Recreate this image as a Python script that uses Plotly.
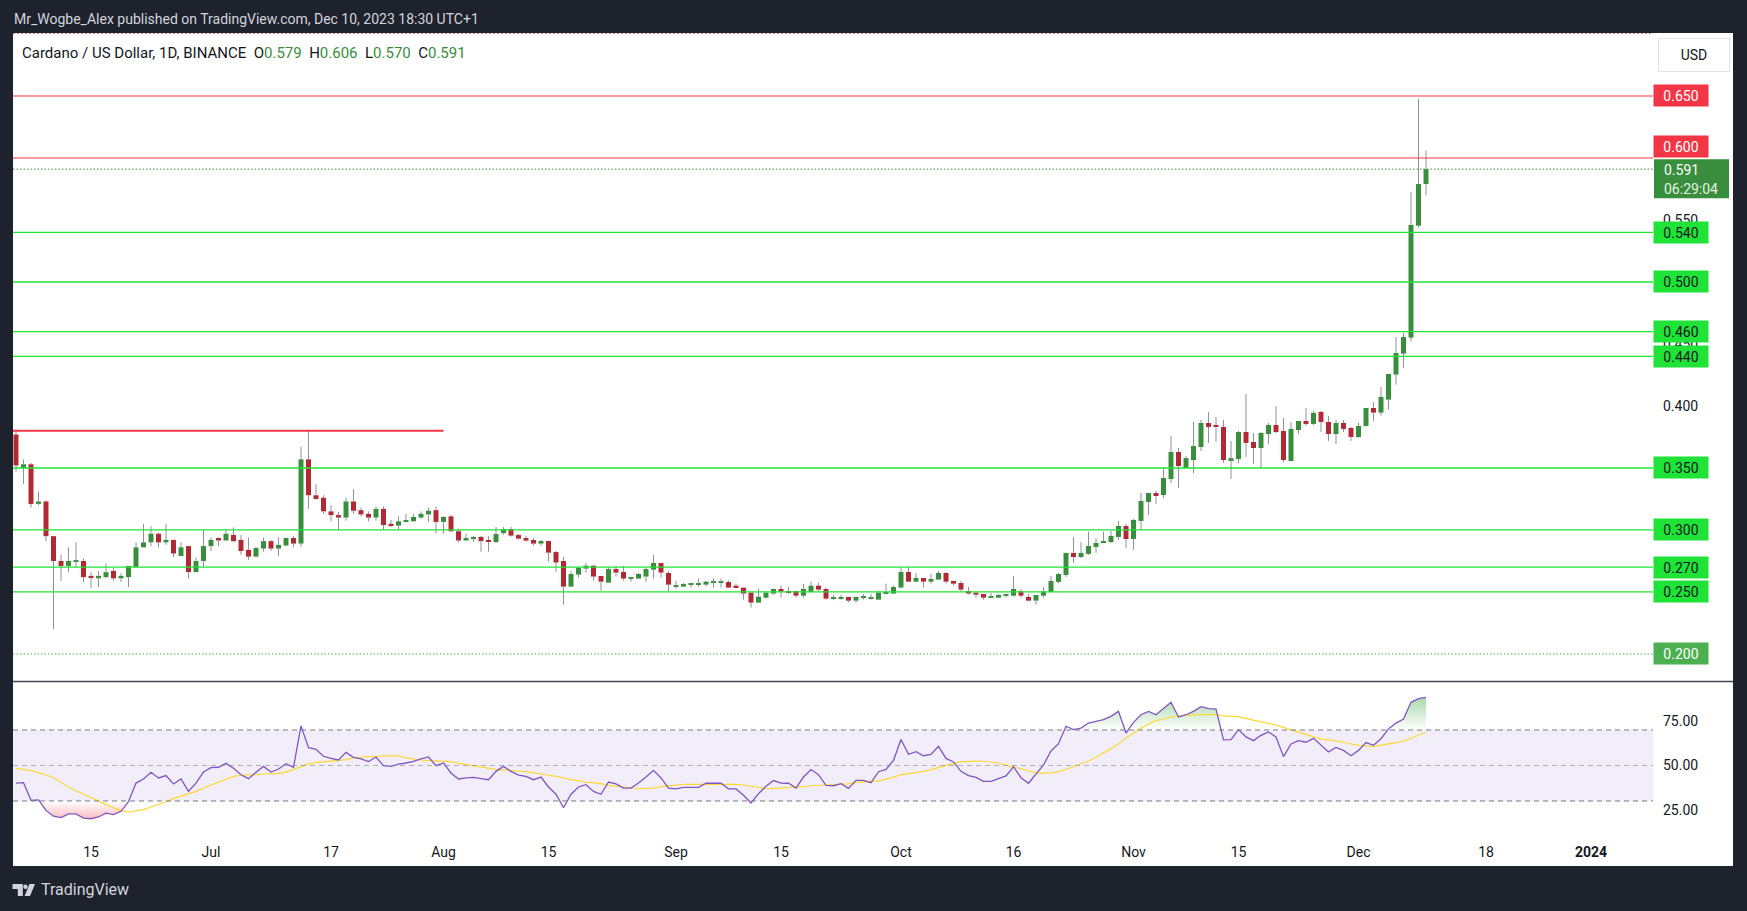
import plotly.graph_objects as go
import pandas as pd

W, H = 1747, 911

# ---------------- data ----------------
dates = pd.date_range("2023-06-05", "2023-12-10", freq="D")

opens = [0.377,0.350,0.353,0.321,0.323,0.295,0.275,0.271,0.2745,0.275,
0.263,0.261,0.262,0.267,0.261,0.262,0.270,0.286,0.290,0.297,
0.290,0.292,0.279,0.287,0.266,0.275,0.287,0.2935,0.2915,0.296,
0.292,0.284,0.2785,0.285,0.291,0.285,0.2875,0.2935,0.289,0.357,
0.328,0.326,0.315,0.312,0.310,0.323,0.316,0.313,0.310,0.317,
0.305,0.3035,0.3067,0.307,0.310,0.3125,0.316,0.3065,0.311,0.299,
0.2915,0.293,0.2944,0.292,0.2903,0.2975,0.3008,0.2959,0.2935,0.2919,
0.2890,0.2911,0.2822,0.2750,0.2543,0.2640,0.2688,0.2712,0.2629,0.2575,
0.2685,0.2661,0.2608,0.2608,0.2624,0.2680,0.2734,0.2653,0.2543,0.2543,
0.2559,0.2559,0.2559,0.2575,0.2575,0.2580,0.2551,0.2535,0.2495,0.2414,
0.2454,0.2487,0.2524,0.2508,0.2508,0.2470,0.2500,0.2551,0.2524,0.2446,
0.2446,0.2460,0.2430,0.2454,0.2446,0.2438,0.2487,0.2487,0.2535,0.2661,
0.2583,0.2613,0.2583,0.2600,0.2653,0.2589,0.2572,0.2508,0.2495,0.2484,
0.2454,0.2454,0.2470,0.2470,0.2505,0.2460,0.2430,0.2470,0.2500,0.2581,
0.2637,0.2815,0.2782,0.2807,0.2863,0.2895,0.2903,0.2944,0.3032,0.2927,
0.3073,0.3226,0.3298,0.3282,0.3411,0.3629,0.3500,0.3564,0.3669,0.3863,
0.3847,0.3831,0.3564,0.3572,0.3790,0.3710,0.3661,0.3774,0.3847,0.3798,
0.3556,0.3806,0.3879,0.3855,0.3952,0.3871,0.3774,0.3863,0.3823,0.3750,
0.3839,0.3984,0.3946,0.4051,0.4253,0.4422,0.4551,0.5454,0.579]

highs = [0.380,0.357,0.354,0.331,0.324,0.295,0.280,0.286,0.290,0.277,
0.266,0.267,0.273,0.269,0.265,0.271,0.290,0.305,0.303,0.298,
0.305,0.292,0.290,0.287,0.278,0.300,0.294,0.294,0.300,0.302,
0.296,0.294,0.286,0.294,0.292,0.294,0.294,0.295,0.367,0.380,
0.337,0.328,0.320,0.3145,0.326,0.333,0.318,0.315,0.319,0.319,
0.308,0.311,0.313,0.313,0.315,0.318,0.319,0.311,0.312,0.301,
0.297,0.295,0.2952,0.295,0.3024,0.3024,0.3024,0.2968,0.2951,0.2935,
0.2919,0.2911,0.2830,0.2782,0.2669,0.2696,0.2734,0.2720,0.2629,0.2696,
0.2710,0.2710,0.2624,0.2653,0.2693,0.2798,0.2734,0.2669,0.2591,0.2572,
0.2575,0.2608,0.2591,0.2608,0.2608,0.2591,0.2567,0.2535,0.2495,0.2527,
0.2495,0.2527,0.2551,0.2543,0.2508,0.2567,0.2583,0.2572,0.2535,0.2478,
0.2478,0.2462,0.2462,0.2484,0.2484,0.2511,0.2567,0.2551,0.2702,0.2702,
0.2653,0.2613,0.2645,0.2669,0.2661,0.2589,0.2589,0.2540,0.2495,0.2484,
0.2494,0.2484,0.2484,0.2629,0.2524,0.2484,0.2476,0.2540,0.2629,0.2653,
0.2815,0.2944,0.2903,0.2987,0.2936,0.2987,0.2992,0.3072,0.3048,0.3089,
0.3298,0.3298,0.3315,0.3508,0.3758,0.3661,0.3597,0.3871,0.3887,0.3952,
0.3911,0.3887,0.3718,0.3798,0.4097,0.3782,0.3790,0.3863,0.4000,0.3903,
0.3871,0.3879,0.3984,0.3960,0.3960,0.3919,0.3887,0.3887,0.3831,0.3863,
0.3984,0.4032,0.4153,0.4258,0.4556,0.4589,0.5726,0.6476,0.606]

lows = [0.347,0.337,0.318,0.320,0.291,0.220,0.259,0.266,0.270,0.258,
0.253,0.254,0.261,0.259,0.258,0.254,0.270,0.286,0.287,0.286,
0.288,0.278,0.279,0.261,0.266,0.270,0.283,0.287,0.2915,0.290,
0.280,0.276,0.278,0.2825,0.283,0.279,0.2865,0.286,0.2865,0.317,
0.3245,0.313,0.307,0.300,0.3075,0.313,0.311,0.307,0.3075,0.300,
0.3025,0.300,0.306,0.3065,0.309,0.3065,0.297,0.297,0.298,0.290,
0.2915,0.2905,0.2825,0.2825,0.2895,0.2962,0.2946,0.2922,0.2906,0.2874,
0.2874,0.2745,0.2664,0.2398,0.2543,0.2616,0.2656,0.2591,0.2511,0.2575,
0.2624,0.2591,0.2583,0.2608,0.2583,0.2608,0.2616,0.2503,0.2527,0.2543,
0.2535,0.2543,0.2543,0.2535,0.2535,0.2535,0.2535,0.2438,0.2374,0.2414,
0.2446,0.2478,0.2454,0.2487,0.2454,0.2454,0.2500,0.2503,0.2438,0.2438,
0.2438,0.2417,0.2414,0.2438,0.2438,0.2438,0.2487,0.2487,0.2535,0.2583,
0.2583,0.2535,0.2567,0.2600,0.2567,0.2551,0.2503,0.2478,0.2454,0.2438,
0.2454,0.2454,0.2454,0.2462,0.2454,0.2422,0.2398,0.2454,0.2500,0.2570,
0.2621,0.2734,0.2774,0.2798,0.2815,0.2895,0.2895,0.2919,0.2855,0.2839,
0.2999,0.3121,0.3210,0.3258,0.3379,0.3339,0.3500,0.3460,0.3637,0.3702,
0.3710,0.3540,0.3411,0.3540,0.3589,0.3532,0.3500,0.3694,0.3782,0.3548,
0.3556,0.3774,0.3839,0.3847,0.3790,0.3718,0.3694,0.3790,0.3718,0.3742,
0.3831,0.3879,0.3922,0.3970,0.4172,0.4309,0.4519,0.5438,0.570]

closes = [0.352,0.353,0.321,0.323,0.295,0.275,0.271,0.275,0.275,0.262,
0.2615,0.263,0.266,0.261,0.263,0.271,0.286,0.290,0.297,0.290,
0.292,0.281,0.286,0.266,0.275,0.287,0.292,0.2915,0.297,0.291,
0.283,0.2785,0.2855,0.291,0.285,0.288,0.2935,0.289,0.357,0.328,
0.325,0.315,0.312,0.310,0.323,0.3155,0.3125,0.310,0.317,0.304,
0.3035,0.307,0.308,0.3105,0.313,0.3155,0.3065,0.3105,0.299,0.2915,
0.2935,0.2944,0.291,0.2903,0.2968,0.3008,0.2954,0.2930,0.2914,0.2890,
0.2911,0.2817,0.2737,0.2543,0.2645,0.2696,0.2712,0.2624,0.2583,0.2685,
0.2656,0.2608,0.2616,0.2645,0.2685,0.2734,0.2656,0.2559,0.2551,0.2564,
0.2564,0.2564,0.2583,0.2580,0.2580,0.2535,0.2535,0.2487,0.2414,0.2462,
0.2495,0.2524,0.2503,0.2495,0.2470,0.2524,0.2551,0.2519,0.2446,0.2454,
0.2460,0.2430,0.2460,0.2462,0.2454,0.2495,0.2495,0.2540,0.2661,0.2583,
0.2613,0.2583,0.2605,0.2653,0.2583,0.2567,0.2519,0.2487,0.2478,0.2454,
0.2460,0.2476,0.2484,0.2524,0.2470,0.2430,0.2476,0.2505,0.2589,0.2645,
0.2815,0.2782,0.2815,0.2871,0.2895,0.2911,0.2952,0.3032,0.2927,0.3081,
0.3234,0.3298,0.3274,0.3419,0.3629,0.3516,0.3580,0.3677,0.3863,0.3831,
0.3831,0.3564,0.3580,0.3790,0.3702,0.3661,0.3782,0.3847,0.3790,0.3564,
0.3815,0.3879,0.3855,0.3944,0.3871,0.3774,0.3863,0.3815,0.3750,0.3839,
0.3984,0.3946,0.4073,0.4258,0.4427,0.4556,0.5460,0.5790,0.591]

rsi = [40.1,40.3,30.4,30.6,24.7,21.4,20.6,22.7,22.7,20.4,
20.0,21.0,23.2,22.3,24.2,29.6,40.1,42.4,46.2,43.0,
44.3,39.6,42.4,35.4,40.1,46.3,48.8,49.0,51.2,48.4,
44.8,42.6,46.2,49.5,46.3,48.0,51.0,49.0,72.3,60.0,
59.1,55.2,54.0,53.1,57.4,54.6,53.7,52.2,54.8,49.9,
49.5,50.8,51.4,52.3,53.7,54.8,49.9,51.4,45.8,42.4,
43.0,43.3,42.6,42.0,46.7,49.5,46.7,44.6,43.9,42.0,
43.5,37.9,33.8,26.2,33.8,37.9,39.2,35.4,33.8,40.7,
39.6,37.3,37.3,40.1,43.5,47.3,43.0,37.3,36.8,37.7,
37.7,37.7,40.0,40.0,40.0,36.9,36.8,33.2,28.9,34.1,
38.3,41.5,40.1,40.0,37.3,43.5,47.7,44.8,38.8,38.6,
39.8,37.1,41.6,41.6,40.3,46.5,47.8,52.9,64.6,56.3,
57.8,55.5,56.3,60.8,54.0,52.0,46.7,44.3,43.3,41.1,
41.1,42.6,44.1,49.3,43.1,40.0,45.0,50.3,58.2,62.3,
72.1,70.2,71.1,73.9,74.9,75.8,77.7,80.5,68.3,74.3,
78.6,80.5,78.6,82.2,85.6,77.3,78.6,80.5,83.1,82.0,
81.8,64.4,64.6,70.2,66.1,64.0,67.0,68.9,66.1,55.0,
62.1,64.0,63.1,65.3,61.7,57.6,60.2,58.5,55.5,58.5,
62.9,61.4,65.1,70.6,73.9,76.2,85.6,87.7,88.4]

rsi_ma = [48.4,47.8,47.1,46.0,44.8,43.1,40.3,37.9,35.8,33.8,
31.7,29.8,27.9,26.1,24.6,23.8,24.4,25.1,26.6,27.9,
29.6,31.3,32.6,34.1,35.4,37.3,39.0,40.9,42.4,43.9,
44.5,44.5,44.8,45.2,45.4,45.6,46.3,47.7,49.3,50.9,
51.6,52.0,52.2,52.7,53.3,54.4,54.8,54.8,55.2,55.4,
55.4,55.4,54.3,53.5,53.1,52.7,52.5,52.5,52.2,51.2,
50.5,49.7,49.0,48.2,47.8,47.5,47.3,46.9,46.5,45.8,
45.0,44.5,43.9,42.8,42.0,41.3,40.5,40.3,39.8,38.8,
38.3,37.7,37.3,36.9,37.1,37.3,38.1,38.6,39.2,39.4,
39.4,39.4,39.6,39.6,39.6,39.6,39.4,39.0,38.3,37.3,
36.9,37.1,37.3,37.3,37.5,38.1,38.6,38.8,39.0,39.2,
39.4,39.6,40.5,40.9,41.1,41.3,42.3,43.5,44.7,45.4,
46.0,46.7,47.7,49.0,50.1,51.2,52.0,52.4,52.5,52.4,
52.0,51.4,50.1,49.2,48.2,46.9,46.0,45.6,45.8,46.5,
47.8,49.3,51.0,52.5,54.6,56.9,59.5,62.3,65.5,68.1,
71.1,73.4,75.3,76.2,77.3,77.9,78.3,78.5,78.6,78.8,
78.8,78.0,77.9,77.5,76.4,75.5,74.7,74.1,72.8,71.5,
70.2,68.9,67.4,66.1,64.9,64.4,63.8,63.1,62.1,61.4,
60.8,60.8,61.4,62.1,62.9,63.8,65.3,67.0,68.7]

red_levels = [0.650, 0.600]
green_levels = [0.540, 0.500, 0.460, 0.440, 0.350, 0.300, 0.270, 0.250]
dotted_level = 0.200
swing_high = 0.380
swing_high_start = "2023-06-04 14:24"
swing_high_end = "2023-08-01"
last_close = closes[-1]
countdown = "06:29:04"

# axis price labels that are not hidden behind a level badge
price_ticks = [0.40, 0.45, 0.55]
rsi_ticks = [25, 50, 75]
rsi_upper, rsi_mid, rsi_lower = 70, 50, 30
date_ticks = ["2023-06-15", "2023-07-01", "2023-07-17", "2023-08-01", "2023-08-15",
              "2023-09-01", "2023-09-15", "2023-10-01", "2023-10-16", "2023-11-01",
              "2023-11-15", "2023-12-01", "2023-12-18", "2024-01-01"]
date_labels = ["15", "Jul", "17", "Aug", "15", "Sep", "15", "Oct", "16", "Nov",
               "15", "Dec", "18", "<b>2024</b>"]

n = len(dates)
assert all(len(a) == n for a in (opens, highs, lows, closes, rsi, rsi_ma))

# ---------------- styling ----------------
UP, DOWN, WICK = "#388e3c", "#b22833", "#8f929b"
LEVEL_GREEN = "#1fe437"
RED = "#f23645"
BG = "#1e222d"
TXT = "#131722"
FONT = "Roboto"


def px(x):
    return x / W


def py(y):
    return 1 - y / H


fig = go.Figure()

# ---- candles: wicks (outside the body) + bodies ----
body_lo = [min(o, c) for o, c in zip(opens, closes)]
body_hi = [max(o, c) for o, c in zip(opens, closes)]
wx, wy = [], []
for d, lo, hi, bl, bh in zip(dates, lows, highs, body_lo, body_hi):
    wx += [d, d, None, d, d, None]
    wy += [lo, bl, None, bh, hi, None]
fig.add_trace(go.Scatter(x=wx, y=wy, mode="lines", line=dict(color=WICK, width=1),
                         hoverinfo="skip", showlegend=False, xaxis="x", yaxis="y"))
body_h = [max(h - l, 0.0008) for h, l in zip(body_hi, body_lo)]
colors = [UP if c >= o else DOWN for o, c in zip(opens, closes)]
fig.add_trace(go.Bar(x=dates, y=body_h, base=body_lo, width=0.66 * 86400000,
                     marker=dict(color=colors, line=dict(width=0)),
                     showlegend=False, xaxis="x", yaxis="y"))

# ---- RSI pane ----
fig.add_trace(go.Scatter(x=dates, y=[rsi_upper] * n, mode="lines", line=dict(width=0),
                         hoverinfo="skip", showlegend=False, xaxis="x2", yaxis="y2"))
fig.add_trace(go.Scatter(x=dates, y=[max(v, rsi_upper) for v in rsi], mode="lines",
                         line=dict(width=0), fill="tonexty",
                         fillgradient=dict(type="vertical", start=rsi_upper, stop=95,
                                           colorscale=[[0, "rgba(76,175,80,0)"],
                                                       [1, "rgba(76,175,80,0.65)"]]),
                         hoverinfo="skip", showlegend=False, xaxis="x2", yaxis="y2"))
fig.add_trace(go.Scatter(x=dates, y=[rsi_lower] * n, mode="lines", line=dict(width=0),
                         hoverinfo="skip", showlegend=False, xaxis="x2", yaxis="y2"))
fig.add_trace(go.Scatter(x=dates, y=[min(v, rsi_lower) for v in rsi], mode="lines",
                         line=dict(width=0), fill="tonexty",
                         fillgradient=dict(type="vertical", start=15, stop=rsi_lower,
                                           colorscale=[[0, "rgba(242,54,69,0.5)"],
                                                       [1, "rgba(242,54,69,0)"]]),
                         hoverinfo="skip", showlegend=False, xaxis="x2", yaxis="y2"))
fig.add_trace(go.Scatter(x=dates, y=rsi_ma, mode="lines", line=dict(color="#fdd835", width=1.2),
                         showlegend=False, xaxis="x2", yaxis="y2"))
fig.add_trace(go.Scatter(x=dates, y=rsi, mode="lines", line=dict(color="#7e57c2", width=1.3),
                         showlegend=False, xaxis="x2", yaxis="y2"))

# ---------------- shapes ----------------
shapes = []
# white chart panel
shapes.append(dict(type="rect", xref="paper", yref="paper", x0=px(13), x1=px(1733),
                   y0=py(866), y1=py(33), fillcolor="white", line=dict(width=0), layer="below"))
# top dotted edge line
shapes.append(dict(type="line", xref="paper", yref="paper", x0=px(13), x1=px(1653),
                   y0=py(33.5), y1=py(33.5), line=dict(color="rgba(242,54,69,0.7)", width=1, dash="2px,2px")))
# pane separator
shapes.append(dict(type="line", xref="paper", yref="paper", x0=px(13), x1=px(1733),
                   y0=py(681.5), y1=py(681.5), line=dict(color="#434651", width=1.5)))
# RSI band + guide lines
shapes.append(dict(type="rect", xref="x2 domain", yref="y2", x0=0, x1=1, y0=rsi_lower, y1=rsi_upper,
                   fillcolor="rgba(126,87,194,0.1)", line=dict(width=0), layer="below"))
for lvl, col in ((rsi_upper, "#787b86"), (rsi_lower, "#787b86"), (rsi_mid, "rgba(120,123,134,0.55)")):
    shapes.append(dict(type="line", xref="x2 domain", yref="y2", x0=0, x1=1, y0=lvl, y1=lvl,
                       line=dict(color=col, width=1, dash="5px,4px")))
# price levels
for lvl in red_levels:
    shapes.append(dict(type="line", xref="x domain", yref="y", x0=0, x1=1, y0=lvl, y1=lvl,
                       line=dict(color=RED, width=1)))
for lvl in green_levels:
    shapes.append(dict(type="line", xref="x domain", yref="y", x0=0, x1=1, y0=lvl, y1=lvl,
                       line=dict(color=LEVEL_GREEN, width=1.3)))
shapes.append(dict(type="line", xref="x domain", yref="y", x0=0, x1=1, y0=dotted_level, y1=dotted_level,
                   line=dict(color="#4caf50", width=1, dash="1.5px,2px")))
shapes.append(dict(type="line", xref="x domain", yref="y", x0=0, x1=1, y0=last_close, y1=last_close,
                   line=dict(color=UP, width=1, dash="1.5px,2px")))
shapes.append(dict(type="line", xref="x", yref="y", x0=swing_high_start, x1=swing_high_end,
                   y0=swing_high, y1=swing_high, line=dict(color=RED, width=2)))
# current price badge background (anchored on the last close)
shapes.append(dict(type="rect", xref="paper", yref="y", ysizemode="pixel", yanchor=last_close,
                   x0=px(1654), x1=px(1729), y0=-29, y1=10, fillcolor=UP, line=dict(width=0)))


# TradingView logo
def path(points):
    return "M" + " L".join(f"{px(x):.5f},{py(y):.5f}" for x, y in points) + " Z"


logo_col = "#d1d4dc"
shapes.append(dict(type="path", xref="paper", yref="paper", fillcolor=logo_col, line=dict(width=0),
                   path=path([(12.5, 884.0), (22.8, 884.0), (22.8, 896.0), (17.8, 896.0), (17.8, 889), (12.5, 889)])))
shapes.append(dict(type="circle", xref="paper", yref="paper", fillcolor=logo_col, line=dict(width=0),
                   x0=px(23.3), x1=px(27.7), y0=py(889), y1=py(884.6)))
shapes.append(dict(type="path", xref="paper", yref="paper", fillcolor=logo_col, line=dict(width=0),
                   path=path([(29.5, 884.0), (35.0, 884.0), (30.0, 896.0), (24.6, 896.0)])))

# ---------------- annotations ----------------
ann = []
ann.append(dict(xref="paper", yref="paper", x=px(12), y=py(19), xanchor="left", yanchor="middle",
                showarrow=False, text="Mr_Wogbe_Alex published on TradingView.com, Dec 10, 2023 18:30 UTC+1",
                font=dict(family=FONT, size=14, color="#d1d4dc")))
g = UP
sp = "\u00a0\u00a0"
hdr = (f"Cardano / US Dollar, 1D, BINANCE{sp}O<span style='color:{g}'>{opens[-1]:.3f}</span>{sp}"
       f"H<span style='color:{g}'>{highs[-1]:.3f}</span>{sp}L<span style='color:{g}'>{lows[-1]:.3f}</span>{sp}"
       f"C<span style='color:{g}'>{closes[-1]:.3f}</span>")
ann.append(dict(xref="paper", yref="paper", x=px(20), y=py(53), xanchor="left", yanchor="middle",
                showarrow=False, text=hdr, font=dict(family=FONT, size=15, color=TXT)))
ann.append(dict(xref="paper", yref="paper", x=px(1694), y=py(55), xanchor="center", yanchor="middle",
                showarrow=False, text="USD", width=68, height=30, bgcolor="white",
                bordercolor="#e0e3eb", borderwidth=1, font=dict(family=FONT, size=14, color=TXT)))
for lvl in red_levels:
    # a label that would collide with the current-price badge sits on top of its line
    collide = abs(lvl - last_close) < 0.02
    ann.append(dict(xref="paper", yref="y", x=px(1681), y=lvl, xanchor="center",
                    yanchor="bottom" if collide else "middle",
                    showarrow=False, text=f"{lvl:.3f}", width=54, height=21, borderpad=0,
                    bgcolor=RED, font=dict(family=FONT, size=14, color="white")))
for lvl in green_levels:
    ann.append(dict(xref="paper", yref="y", x=px(1681), y=lvl, xanchor="center", yanchor="middle",
                    showarrow=False, text=f"{lvl:.3f}", width=54, height=21, borderpad=0,
                    bgcolor=LEVEL_GREEN, font=dict(family=FONT, size=14, color=TXT)))
ann.append(dict(xref="paper", yref="y", x=px(1681), y=dotted_level, xanchor="center", yanchor="middle",
                showarrow=False, text=f"{dotted_level:.3f}", width=54, height=21, borderpad=0,
                bgcolor="#4caf50", font=dict(family=FONT, size=14, color="white")))
ann.append(dict(xref="paper", yref="y", x=px(1663), y=last_close, xanchor="left", yanchor="top",
                yshift=10, showarrow=False, align="left", valign="middle", height=39, borderpad=0,
                text=f"{last_close:.3f}<br><span style='color:#e3efe3'>{countdown}</span>",
                font=dict(family=FONT, size=14, color="white")))
ann.append(dict(xref="paper", yref="paper", x=px(39), y=py(889), xanchor="left", yanchor="middle",
                showarrow=False, text="TradingView", font=dict(family=FONT, size=16, color="#d1d4dc")))

# ---------------- layout ----------------
x_range = ["2023-06-04 14:24", "2024-01-09 06:24"]
axis_font = dict(family=FONT, size=14, color=TXT)
fig.update_layout(
    width=W, height=H, margin=dict(l=0, r=0, t=0, b=0),
    paper_bgcolor=BG, plot_bgcolor="rgba(0,0,0,0)",
    barmode="overlay", showlegend=False, hovermode=False,
    font=dict(family=FONT, color=TXT),
    xaxis=dict(domain=[px(13), px(1653)], range=x_range, type="date", anchor="y",
               showticklabels=False, showgrid=False, zeroline=False, showline=False, ticks=""),
    xaxis2=dict(domain=[px(13), px(1653)], matches="x", type="date", anchor="y2",
                tickvals=date_ticks, ticktext=date_labels, tickfont=axis_font,
                showgrid=False, zeroline=False, showline=False, ticks="", ticklabelstandoff=4),
    yaxis=dict(domain=[py(681), py(33)], range=[0.1782, 0.7008], side="right", anchor="x",
               tickvals=price_ticks, ticktext=[f"{v:.3f}" for v in price_ticks], tickfont=axis_font,
               showgrid=False, zeroline=False, showline=False, ticks="", ticklabelstandoff=9),
    yaxis2=dict(domain=[py(838), py(681)], range=[9.15, 97.6], side="right", anchor="x2",
                tickvals=rsi_ticks, ticktext=[f"{v:.2f}" for v in rsi_ticks], tickfont=axis_font,
                showgrid=False, zeroline=False, showline=False, ticks="", ticklabelstandoff=9),
    shapes=shapes, annotations=ann,
)

fig.write_html("out.html")
